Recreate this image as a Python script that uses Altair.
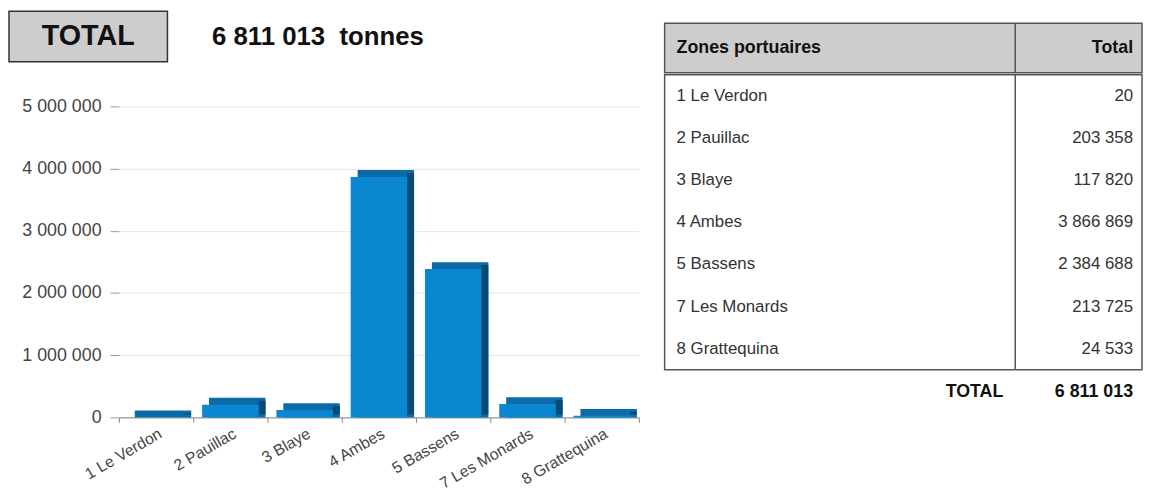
import altair as alt
import pandas as pd

# ---- data ----
zones = ["1 Le Verdon", "2 Pauillac", "3 Blaye", "4 Ambes", "5 Bassens",
         "7 Les Monards", "8 Grattequina"]
values = [20, 203358, 117820, 3866869, 2384688, 213725, 24533]
y_ticks = [0, 1000000, 2000000, 3000000, 4000000, 5000000]
header_label = "TOTAL"
unit_label = "tonnes"
table_headers = ["Zones portuaires", "Total"]

total = sum(values)


def fmt(v):
    return f"{v:,}".replace(",", " ")


df = pd.DataFrame({"zone": zones, "value": values,
                   "label": [fmt(v) for v in values]})

FONT = "Liberation Sans"
FRONT = "#0a87d0"
TOP = "#0b6aa8"
SIDE = "#064a78"
BAR_W = 57
DEPTH = 7
AXIS_W = 111     # room kept inside the view for the y-axis labels
PLOT_W = 525

# ---- header: TOTAL box + total value ----
box = alt.Chart(pd.DataFrame({"t": [header_label]})).mark_text(
    fontSize=29, fontWeight="bold", color="#111", font=FONT, baseline="middle"
).encode(text="t:N").properties(
    width=160, height=51,
    view=alt.ViewBackground(fill="#cdcdcd", stroke="#333333", strokeWidth=1.5),
)

num = alt.Chart(pd.DataFrame({"t": [f"{fmt(total)}\u00a0\u00a0{unit_label}"]})).mark_text(
    fontSize=26, fontWeight="bold", color="#111", font=FONT, align="left",
    baseline="middle"
).encode(text="t:N", x=alt.value(0)).properties(width=260, height=51)

header = alt.hconcat(box, num, spacing=44)

# ---- 3D-like bar chart ----
x_enc = alt.X("zone:N", sort=zones, title=None,
              scale=alt.Scale(paddingInner=0, paddingOuter=0,
                              range=[AXIS_W, AXIS_W + PLOT_W]),
              axis=alt.Axis(labelAngle=-30, labelAlign="right", labelBaseline="top",
                            tickBand="extent", tickSize=5, tickColor="#888",
                            domainColor="#888", labelColor="#444",
                            labelFontSize=16, labelFont=FONT, labelPadding=3,
                            grid=False))
y_enc = alt.Y("value:Q", title=None,
              scale=alt.Scale(domain=[0, 5000000]),
              axis=alt.Axis(values=y_ticks, domain=False, tickSize=9,
                            tickColor="#999", labelColor="#444",
                            labelFontSize=18, labelFont=FONT, labelPadding=9,
                            gridColor="#e6e6e6", offset=-AXIS_W,
                            labelExpr="replace(format(datum.value, ','), regexp(',', 'g'), ' ')"))
y2_enc = alt.Y2(datum=0)

base = alt.Chart(df)
back = base.mark_bar(size=BAR_W, color=TOP, xOffset=DEPTH, yOffset=-DEPTH
                     ).encode(x=x_enc, y=y_enc, y2=y2_enc)
side = base.mark_bar(size=DEPTH, color=SIDE, xOffset=BAR_W / 2 + DEPTH / 2,
                     yOffset=-4, y2Offset=-3).encode(x=x_enc, y=y_enc, y2=y2_enc)
front = base.mark_bar(size=BAR_W, color=FRONT).encode(x=x_enc, y=y_enc, y2=y2_enc)

bars = alt.layer(back, side, front).properties(width=AXIS_W + PLOT_W, height=314)

left = alt.vconcat(header, bars, spacing=35)

# ---- table ----
TW = 482
NAME_W = 354
cell_view = alt.ViewBackground(stroke="#555555", strokeWidth=1.5)
hdr_view = alt.ViewBackground(fill="#cdcdcd", stroke="#555555", strokeWidth=1.5)

spacer = alt.Chart(pd.DataFrame({"t": [""]})).mark_text().encode(
    text="t:N").properties(width=TW, height=10)

hdr_df = pd.DataFrame({"a": [table_headers[0]], "b": [table_headers[1]]})
hdr_base = alt.Chart(hdr_df)
hdr = alt.layer(
    hdr_base.mark_text(fontSize=18, fontWeight="bold", color="#111", font=FONT,
                       align="left", baseline="middle"
                       ).encode(text="a:N", x=alt.value(12)),
    hdr_base.mark_text(fontSize=18, fontWeight="bold", color="#111", font=FONT,
                       align="right", baseline="middle"
                       ).encode(text="b:N", x=alt.value(TW - 9)),
    hdr_base.mark_rule(color="#555555", strokeWidth=1.5).encode(x=alt.value(NAME_W)),
).properties(width=TW, height=50, view=hdr_view)

row_y = alt.Y("zone:N", sort=zones, axis=None,
              scale=alt.Scale(paddingInner=0, paddingOuter=0))
body_base = alt.Chart(df)
body = alt.layer(
    body_base.mark_text(fontSize=17, color="#333", font=FONT, align="left",
                        baseline="middle"
                        ).encode(text="zone:N", y=row_y, x=alt.value(12)),
    body_base.mark_text(fontSize=17, color="#333", font=FONT, align="right",
                        baseline="middle"
                        ).encode(text="label:N", y=row_y, x=alt.value(TW - 9)),
    alt.Chart(hdr_df).mark_rule(color="#555555", strokeWidth=1.5).encode(
        x=alt.value(NAME_W)),
).properties(width=TW, height=298, view=cell_view)

tot_df = pd.DataFrame({"a": [header_label], "b": [fmt(total)]})
tot_base = alt.Chart(tot_df)
tot = alt.layer(
    tot_base.mark_text(fontSize=18, fontWeight="bold", color="#111", font=FONT,
                       align="right", baseline="middle"
                       ).encode(text="a:N", x=alt.value(NAME_W - 12)),
    tot_base.mark_text(fontSize=18, fontWeight="bold", color="#111", font=FONT,
                       align="right", baseline="middle"
                       ).encode(text="b:N", x=alt.value(TW - 9)),
).properties(width=TW, height=40)

table = alt.vconcat(
    spacer,
    alt.vconcat(hdr, body, spacing=-3),
    tot,
    spacing=0,
)

chart = alt.hconcat(left, table, spacing=24).properties(
    padding={"left": 0, "top": 0, "right": 0, "bottom": 0}
).configure(font=FONT).configure_view(stroke=None).configure_concat(spacing=0)

chart.save("out.html", embed_options={"renderer": "svg", "actions": False})
